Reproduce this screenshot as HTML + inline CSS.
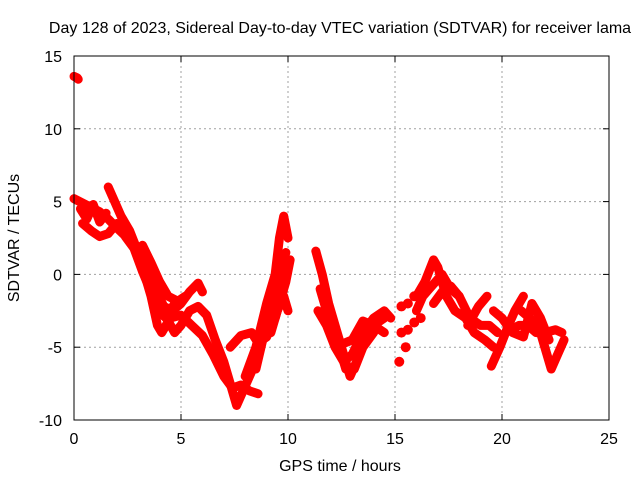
<!DOCTYPE html>
<html><head><meta charset="utf-8"><style>
body{margin:0;background:#fff}
svg text{font-family:"Liberation Sans",sans-serif;font-size:16px;fill:#000}
</style></head><body>
<svg id="chart" width="640" height="480">
<text x="340" y="33" text-anchor="middle">Day 128 of 2023, Sidereal Day-to-day VTEC variation (SDTVAR) for receiver lama</text>
<text x="340" y="471" text-anchor="middle">GPS time / hours</text>
<text transform="translate(19,238) rotate(-90)" text-anchor="middle">SDTVAR / TECUs</text>
<g id="grid"></g><g id="ticks"></g><g id="marks"></g>
<rect x="74" y="56" width="535" height="364" fill="none" stroke="#000" stroke-width="1"/>
</svg>
<script>
const xTicks=[0,5,10,15,20,25];
const yTicks=[-10,-5,0,5,10,15];
const track0=[[0,13.6],[0.15,13.5],[0.2,13.4]];
const track1=[[0,5.2],[0.4,4.9],[0.8,4.6],[1.2,4.3],[1.6,3.8],[2.0,3.2],[2.5,2.5],[3.0,1.8],[3.4,0.5],[3.8,-1],[4.2,-2.2],[4.6,-2.5],[5.0,-2],[5.4,-1.2],[5.8,-0.6],[6.0,-1.2]];
const track2=[[0.4,3.5],[0.8,3.0],[1.2,2.6],[1.6,2.8],[2.0,3.5],[2.4,3.0],[2.8,2.2],[3.2,1.0],[3.6,-0.5],[4.0,-2.0],[4.4,-3.2],[4.7,-4.0],[5.0,-3.5],[5.4,-2.5],[5.8,-2.2],[6.2,-2.8],[6.6,-4.5],[7.0,-6.0],[7.3,-7.5],[7.6,-9.0],[7.9,-8],[8.2,-7],[8.5,-6],[8.8,-4.5],[9.1,-3],[9.4,-1],[9.7,0.5],[9.9,1.5]];
const track3=[[1.6,6],[1.9,5],[2.2,4],[2.6,3],[3.0,1.5],[3.3,0],[3.6,-1.5],[3.9,-3.5],[4.1,-4],[4.5,-3],[5.0,-2.8],[5.5,-3.5],[6.0,-4.2],[6.5,-5.5],[7.0,-7],[7.4,-7.8],[7.8,-7.6],[8.2,-8],[8.6,-8.2]];
const track4=[[7.3,-5],[7.8,-4.2],[8.3,-4.0],[8.6,-4.7],[9.0,-4.3],[9.4,-3],[9.7,-1.5],[9.9,-0.5],[10.1,1]];
const track5=[[8.0,-7],[8.5,-5],[9.0,-2],[9.4,0],[9.6,2.5],[9.8,4],[10.0,2.5]];
const track6=[[9.2,-4],[9.5,-2.5],[9.8,-1.5],[10.0,-2.5]];
const track7=[[0.3,4.5],[0.6,3.8],[0.9,4.8],[1.2,3.6],[1.5,4.2]];
const track19=[[2.4,2.6],[2.8,1.8],[3.2,0.2],[3.6,-1.2],[4.0,-2.6],[4.3,-3],[4.7,-2],[5.2,-1.5]];
const track20=[[3.2,2.0],[3.6,0.8],[4.0,-0.5],[4.4,-1.5],[4.8,-1.8]];
const track21=[[8.5,-6.5],[8.9,-4],[9.3,-1.5],[9.6,0.5],[9.9,0]];
const track8=[[11.3,1.6],[11.6,0],[11.9,-2],[12.2,-3.5],[12.6,-5.5],[12.9,-7],[13.2,-6],[13.6,-4.5],[14.0,-3.5],[14.5,-3]];
const track9=[[11.4,-2.5],[11.8,-3.5],[12.2,-5],[12.6,-6],[13.0,-5.5],[13.5,-4],[14.0,-3],[14.5,-2.5],[14.8,-3]];
const track10=[[12.0,-4],[12.5,-4.8],[13.0,-4.5],[13.5,-3.2],[14.0,-3.5],[14.5,-4]];
const track22=[[11.5,-1],[11.9,-3],[12.3,-4.5],[12.7,-6.5],[13.1,-6.5],[13.5,-5],[14.0,-4]];
const track11=[[16.0,-2.5],[16.3,-1.5],[16.6,-1],[16.9,-0.5],[17.2,0],[17.6,-1],[18.0,-1.5],[18.5,-3],[19.0,-3.5],[19.4,-3.5],[19.8,-4]];
const track12=[[16.0,-1.5],[16.4,-0.5],[16.8,1],[17.0,0.5],[17.4,-1.5],[17.8,-2.5],[18.3,-3],[18.7,-4],[19.2,-4.5],[19.6,-5]];
const track13=[[16.8,-2],[17.2,-1.2],[17.6,-0.8],[18.0,-1.5]];
const track14=[[18.4,-3.5],[18.9,-2.2],[19.3,-1.5]];
const track15=[[19.5,-6.3],[19.9,-5],[20.3,-3.5],[20.6,-2.5],[21.0,-1.5]];
const track16=[[19.6,-2.5],[20.0,-3],[20.4,-3.8],[20.8,-3.5],[21.2,-3.5],[21.6,-4],[22.0,-4],[22.5,-3.8],[22.8,-4]];
const track17=[[20.9,-2.5],[21.3,-3],[21.7,-3.5],[22.0,-5],[22.3,-6.5],[22.6,-5.5],[22.9,-4.5]];
const track18=[[20.5,-4],[21.0,-4.3],[21.4,-2],[21.8,-3],[22.2,-4.5]];
const isolated=[[15.2,-6],[15.5,-5],[15.3,-4],[15.6,-3.8],[15.3,-2.2],[15.9,-3.3],[15.6,-2],[15.9,-1.5],[16.2,-3]];
const tracks=[track0,track1,track2,track3,track4,track5,track6,track7,track8,track9,track10,track11,track12,track13,track14,track15,track16,track17,track18,track19,track20,track21,track22];

const X0=74,X1=609,Y0=420,Y1=56;
const sx=v=>X0+(v-0)/(25-0)*(X1-X0);
const sy=v=>Y0-(v+10)/(15+10)*(Y0-Y1);
const NS='http://www.w3.org/2000/svg';
const grid=document.getElementById('grid'),ticks=document.getElementById('ticks'),marks=document.getElementById('marks');
function mk(t,a,p){const e=document.createElementNS(NS,t);for(const k in a)e.setAttribute(k,a[k]);p.appendChild(e);return e;}
xTicks.forEach(t=>{const x=sx(t);
 if(t>0&&t<25){const g=mk('line',{x1:x,x2:x,y1:Y1,y2:Y0,stroke:'#a0a0a0','stroke-dasharray':'2,3'},grid);
 
 }
 mk('line',{x1:x,x2:x,y1:Y0,y2:Y0-6,stroke:'#000'},ticks);
 mk('line',{x1:x,x2:x,y1:Y1,y2:Y1+6,stroke:'#000'},ticks);
 const l=mk('text',{x:x,y:444,'text-anchor':'middle'},ticks);l.textContent=t;
 
 });
yTicks.forEach(t=>{const y=sy(t);
 if(t>-10&&t<15){const g=mk('line',{x1:X0,x2:X1,y1:y,y2:y,stroke:'#a0a0a0','stroke-dasharray':'2,3'},grid);
 
 }
 mk('line',{x1:X0,x2:X0+6,y1:y,y2:y,stroke:'#000'},ticks);
 mk('line',{x1:X1,x2:X1-6,y1:y,y2:y,stroke:'#000'},ticks);
 const l=mk('text',{x:62,y:y+6,'text-anchor':'end'},ticks);l.textContent=t;
 
 });
tracks.forEach(tr=>{
 const p=mk('polyline',{points:tr.map(d=>sx(d[0])+','+sy(d[1])).join(' '),fill:'none',stroke:'#ff0000','stroke-width':9,'stroke-linejoin':'round','stroke-linecap':'round'},marks);
 
 });
isolated.forEach(d=>{
 const c=mk('circle',{cx:sx(d[0]),cy:sy(d[1]),r:5,fill:'#ff0000'},marks);
 
 });
</script>
</body></html>
